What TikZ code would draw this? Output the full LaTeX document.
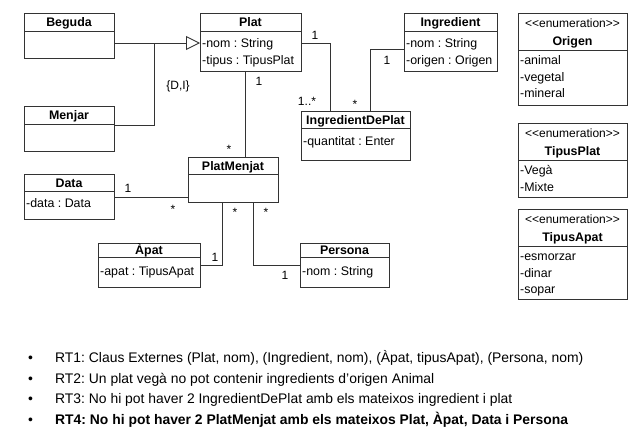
\documentclass[tikz,border=0pt]{standalone}
\usepackage{fontspec}
\setmainfont{Liberation Sans}
\usetikzlibrary{arrows.meta}
\frenchspacing
\begin{document}
\frenchspacing
\begin{tikzpicture}[x=1pt,y=-1pt,
 cls/.style={draw=black!80, line width=0.9pt, fill=white, anchor=north west, inner sep=0pt, outer sep=0pt},
 ttl/.style={font=\fontsize{12.4}{14}\selectfont\bfseries, anchor=base, inner sep=0pt},
 att/.style={font=\fontsize{12.4}{14}\selectfont, anchor=base west, inner sep=0pt},
 ste/.style={font=\fontsize{12}{14}\selectfont, anchor=base, inner sep=0pt},
 mul/.style={font=\fontsize{12}{14}\selectfont, anchor=base, inner sep=0pt},
 sepline/.style={draw=black!80, line width=0.9pt},
 con/.style={draw=black!80, line width=0.9pt},
 rt/.style={font=\fontsize{13.9}{16}\selectfont, anchor=base west, inner sep=0pt},
]
\useasboundingbox (0,0) rectangle (639,442);
\fill[white] (0,0) rectangle (639,442);

% ---------- classes ----------
% Beguda
\node[cls, minimum width=90pt, minimum height=45pt] (beguda) at (24,13) {};
\draw[sepline] (24,31) -- (114,31);
\node[ttl] (begudat) at (69,26.5) {Beguda};
% Menjar
\node[cls, minimum width=90pt, minimum height=45pt] (menjar) at (24,106) {};
\draw[sepline] (24,124) -- (114,124);
\node[ttl] (menjart) at (69,119.5) {Menjar};
% Plat
\node[cls, minimum width=101pt, minimum height=58pt] (plat) at (200,13) {};
\draw[sepline] (200,31) -- (301,31);
\node[ttl] (platt) at (250.5,26.5) {Plat};
\node[att] (plata) at (202,47.5) {-nom : String};
\node[att] (platb) at (202,64.5) {-tipus : TipusPlat};
% Ingredient
\node[cls, minimum width=93pt, minimum height=58pt] (ingr) at (404,13) {};
\draw[sepline] (404,31) -- (497,31);
\node[ttl] (ingrt) at (450.5,26.5) {Ingredient};
\node[att] (ingra) at (406,47.5) {-nom : String};
\node[att] (ingrb) at (406,64.5) {-origen : Origen};
% Origen
\node[cls, minimum width=109pt, minimum height=92pt] (origen) at (518,13) {};
\node[ste] (origens) at (572.5,27.5) {<\kern0pt<enumeration>\kern0pt>};
\node[ttl] (origent) at (572.5,45) {Origen};
\draw[sepline] (518,50) -- (627,50);
\node[att] (origena) at (520,64.5) {-animal};
\node[att] (origenb) at (520,81) {-vegetal};
\node[att] (origenc) at (520,97.5) {-mineral};
% TipusPlat
\node[cls, minimum width=109pt, minimum height=74pt] (tplat) at (518,123) {};
\node[ste] (tplats) at (572.5,137.5) {<\kern0pt<enumeration>\kern0pt>};
\node[ttl] (tplatt) at (572.5,155) {TipusPlat};
\draw[sepline] (518,160) -- (627,160);
\node[att] (tplata) at (520,174.5) {-Vegà};
\node[att] (tplatb) at (520,191) {-Mixte};
% TipusApat
\node[cls, minimum width=109pt, minimum height=90pt] (tapat) at (518,209) {};
\node[ste] (tapats) at (572.5,223.5) {<\kern0pt<enumeration>\kern0pt>};
\node[ttl] (tapatt) at (572.5,241) {TipusApat};
\draw[sepline] (518,246) -- (627,246);
\node[att] (tapata) at (520,260.5) {-esmorzar};
\node[att] (tapatb) at (520,277) {-dinar};
\node[att] (tapatc) at (520,293.5) {-sopar};
% IngredientDePlat
\node[cls, minimum width=109pt, minimum height=49pt] (idp) at (301,111) {};
\draw[sepline] (301,128) -- (410,128);
\node[ttl] (idpt) at (355.5,124) {IngredientDePlat};
\node[att] (idpa) at (303,145.5) {-quantitat : Enter};
% PlatMenjat
\node[cls, minimum width=90pt, minimum height=45pt] (pm) at (188,157) {};
\draw[sepline] (188,174) -- (278,174);
\node[ttl] (pmt) at (233,170) {PlatMenjat};
% Data
\node[cls, minimum width=90pt, minimum height=45pt] (data) at (24,174) {};
\draw[sepline] (24,191) -- (114,191);
\node[ttl] (datat) at (69,187) {Data};
\node[att] (dataa) at (26,207.5) {-data : Data};
% Apat
\node[cls, minimum width=102pt, minimum height=44pt] (apat) at (98,243) {};
\draw[sepline] (98,257) -- (200,257);
\node[ttl] (apatt) at (149,254) {Àpat};
\node[att] (apata) at (100,275) {-apat : TipusApat};
% Persona
\node[cls, minimum width=89pt, minimum height=44pt] (persona) at (300,243) {};
\draw[sepline] (300,257) -- (389,257);
\node[ttl] (personat) at (344.5,254) {Persona};
\node[att] (personaa) at (302,275) {-nom : String};

% ---------- connectors ----------
\coordinate (gj) at (154,43);
\draw[con] (menjar.east |- 0,125) -- (154,125) -- (gj);
\draw[con, -{Triangle[open, length=14pt, width=14pt, line width=0.9pt]}] (beguda.east |- gj) -- (plat.west |- gj);
\node[mul] (dil) at (178,89) {\{D,I\}};

\draw[con] (plat.east |- 0,43) -- (330,43) -- (idp.north -| 330,0);
\node[mul] (m1) at (315,39) {1};
\node[mul] (m2) at (307,105) {1..*};

\draw[con] (ingr.west |- 0,49) -- (370,49) -- (idp.north -| 370,0);
\node[mul] (m3) at (387,64) {1};
\node[mul] (m4) at (355,108) {*};

\draw[con] (plat.south -| 245,0) -- (pm.north -| 245,0);
\node[mul] (m5) at (259,85) {1};
\node[mul] (m6) at (229,153) {*};

\draw[con] (data.east |- 0,197) -- (pm.west |- 0,197);
\node[mul] (m7) at (128,192) {1};
\node[mul] (m8) at (173,213) {*};

\draw[con] (pm.south -| 222,0) -- (222,265) -- (apat.east |- 0,265);
\node[mul] (m9) at (235,216) {*};
\node[mul] (m10) at (215,261) {1};

\draw[con] (pm.south -| 253,0) -- (253,265) -- (persona.west |- 0,265);
\node[mul] (m11) at (266,216) {*};
\node[mul] (m12) at (285,279) {1};

% ---------- rules ----------
\node[rt] (b1) at (28,362) {•};
\node[rt] (r1) at (55,362) {RT1: Claus Externes (Plat, nom), (Ingredient, nom), (Àpat, tipusApat), (Persona, nom)};
\node[rt] (b2) at (28,383) {•};
\node[rt] (r2) at (55,383) {RT2: Un plat vegà no pot contenir ingredients d’origen Animal};
\node[rt] (b3) at (28,403) {•};
\node[rt] (r3) at (55,403) {RT3: No hi pot haver 2 IngredientDePlat amb els mateixos ingredient i plat};
\node[rt] (b4) at (28,424) {•};
\node[rt, font=\fontsize{13.9}{16}\selectfont\bfseries] (r4) at (55,424) {RT4: No hi pot haver 2 PlatMenjat amb els mateixos Plat, Àpat, Data i Persona};
\end{tikzpicture}
\end{document}
